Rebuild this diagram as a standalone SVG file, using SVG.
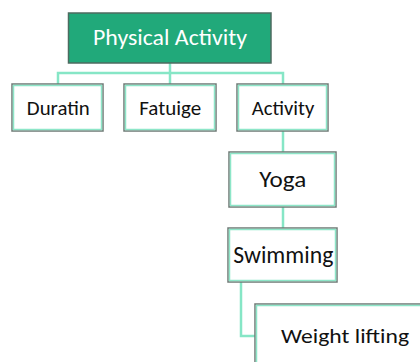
<svg xmlns="http://www.w3.org/2000/svg" width="420" height="362" viewBox="0 0 420 362">
  <style>
    .box { fill: #ffffff; stroke: #6f7a76; stroke-width: 1.5; }
    .inner { fill: none; stroke: #8de6c8; stroke-width: 1.5; }
    .root { fill: #21a97a; stroke: #4d6b60; stroke-width: 1.5; }
    .lbl { font-family: Carlito, Lato, "Open Sans", sans-serif; font-size: 20px; fill: #111111; text-anchor: middle; }
    .rootlbl { font-family: Carlito, Lato, "Open Sans", sans-serif; font-size: 23px; fill: #ffffff; text-anchor: middle; }
    .conn { fill: none; stroke: #86e6c6; stroke-width: 2.5; }
  </style>
  <rect width="420" height="362" fill="#ffffff"/>

  <g id="connectors">
    <path class="conn" d="M170 63 V84 M58 84 V73 H283 V84"/>
    <path class="conn" d="M283 131 V152"/>
    <path class="conn" d="M283 207 V228"/>
    <path class="conn" d="M241 282 V336 H255"/>
  </g>

  <g id="physical-activity">
    <rect class="root" x="68.5" y="13" width="202.5" height="50"/>
    <text class="rootlbl" x="170" y="45" textLength="154" lengthAdjust="spacingAndGlyphs">Physical Activity</text>
  </g>

  <g id="duratin">
    <rect class="box" x="12" y="84" width="91" height="47"/>
    <rect class="inner" x="13.5" y="85.5" width="88" height="44"/>
    <text class="lbl" x="58.3" y="114.7" textLength="63" lengthAdjust="spacingAndGlyphs">Duratin</text>
  </g>

  <g id="fatuige">
    <rect class="box" x="124" y="84" width="92" height="47"/>
    <rect class="inner" x="125.5" y="85.5" width="89" height="44"/>
    <text class="lbl" x="170.2" y="114.7" textLength="62" lengthAdjust="spacingAndGlyphs">Fatuige</text>
  </g>

  <g id="activity">
    <rect class="box" x="237" y="84" width="91" height="47"/>
    <rect class="inner" x="238.5" y="85.5" width="88" height="44"/>
    <text class="lbl" x="283" y="114.7" textLength="62.6" lengthAdjust="spacingAndGlyphs">Activity</text>
  </g>

  <g id="yoga">
    <rect class="box" x="229" y="152" width="107" height="55"/>
    <rect class="inner" x="230.5" y="153.5" width="104" height="52"/>
    <text class="lbl" x="282.7" y="186.7" style="font-size:22.3px" textLength="47" lengthAdjust="spacingAndGlyphs">Yoga</text>
  </g>

  <g id="swimming">
    <rect class="box" x="228" y="228" width="109" height="54"/>
    <rect class="inner" x="229.5" y="229.5" width="106" height="51"/>
    <text class="lbl" x="283.3" y="262.5" style="font-size:23.7px" textLength="100" lengthAdjust="spacingAndGlyphs">Swimming</text>
  </g>

  <g id="weight-lifting">
    <rect class="box" x="255" y="304" width="180" height="64"/>
    <rect class="inner" x="256.5" y="305.5" width="177" height="61"/>
    <text class="lbl" x="345" y="343.3" style="font-size:21px" textLength="128" lengthAdjust="spacingAndGlyphs">Weight lifting</text>
  </g>
</svg>
